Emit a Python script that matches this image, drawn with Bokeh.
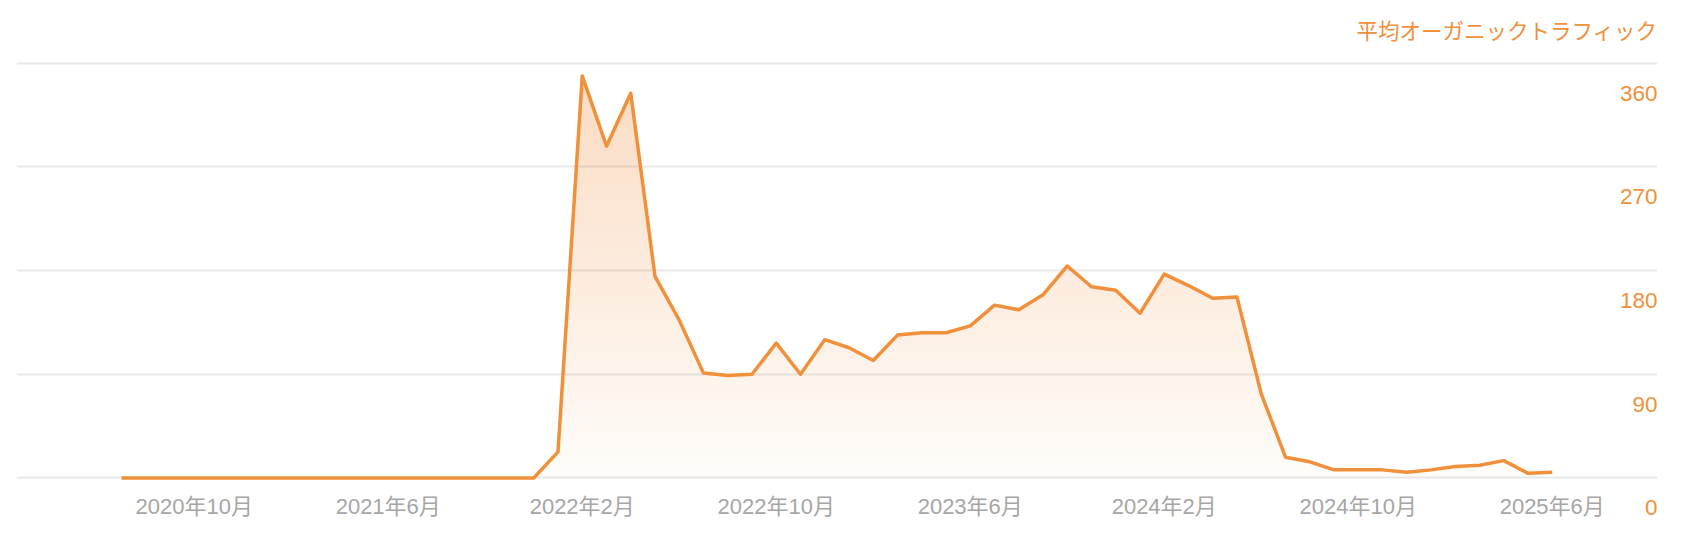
import numpy as np
import pandas as pd
from bokeh.plotting import figure
from bokeh.models import Range1d, ColumnDataSource, LabelSet
from bokeh.core.properties import value
from bokeh.embed import file_html
from bokeh.resources import INLINE

# ---- data ----
months = [f"{d.year}年{d.month}月" for d in pd.date_range("2020-07-01", periods=60, freq="MS")]
traffic = [0, 0, 0, 0, 0, 0, 0, 0, 0, 0, 0, 0, 0, 0, 0, 0, 0, 0,
           22.6, 349, 288, 334, 175, 137, 91, 89, 90, 117, 90, 120,
           113, 102, 124, 126, 126, 132, 150, 146, 159, 184, 166, 163,
           143, 177, 167, 156, 157, 73, 18, 14, 7, 7, 7, 5,
           7, 10, 11, 15, 4, 5]
tick_labels = ["2020年10月", "2021年6月", "2022年2月", "2022年10月",
               "2023年6月", "2024年2月", "2024年10月", "2025年6月"]
y_ticks = [0, 90, 180, 270, 360]
y_tick_labels = ["0", "90", "180", "270", "360"]
series_name = "平均オーガニックトラフィック"

LINE = "#F0903A"
FONT = "'Liberation Sans', 'Noto Sans CJK JP'"

idx = np.arange(len(months))
vals = np.array(traffic, dtype=float)

x_start, x_end = -4.33, 63.34
p = figure(width=1666, height=530, output_backend="svg", toolbar_location=None,
           x_range=Range1d(x_start, x_end), y_range=Range1d(-43.9, 365),
           min_border_left=16, min_border_right=9, min_border_top=57, min_border_bottom=2)
p.outline_line_color = None
p.background_fill_color = "white"
p.xgrid.visible = False
p.ygrid.visible = False
p.xaxis.visible = False
p.yaxis.visible = False

# gradient fill: vertical gradient image masked above the line
ymax = vals.max()
n = 256
t = np.linspace(0, 1, n)
top = np.array([251, 220, 196])
bot = np.array([255, 253, 250])
cols = (bot[None, :] * (1 - t[:, None]) + top[None, :] * t[:, None]).astype(np.uint32)
rgba = cols[:, 0] | (cols[:, 1] << 8) | (cols[:, 2] << 16) | (np.uint32(255) << 24)
img = np.repeat(rgba[:, None], 2, axis=1).astype(np.uint32)
p.image_rgba(image=[img], x=0.5, y=0, dw=float(idx[-1]) - 1.0, dh=float(ymax) - 2)
p.varea(x=idx, y1=vals, y2=np.full_like(vals, ymax + 20), fill_color="white")

# grid lines
p.hspan(y=y_ticks, line_color="black", line_alpha=0.09, line_width=2)

# line
p.line(idx, vals, line_color=LINE, line_width=3.5, line_join="round")

# x labels (below the zero line)
tick_idx = [months.index(l) for l in tick_labels]
xsrc = ColumnDataSource(dict(x=tick_idx, y=[0] * len(tick_idx), t=tick_labels))
p.add_layout(LabelSet(x="x", y="y", text="t", source=xsrc, text_align="center",
                      text_baseline="middle", y_offset=-29, text_color="#A6A6A6",
                      text_font=value(FONT), text_font_size=value("22px")))

# y labels below their grid lines, right aligned
ysrc = ColumnDataSource(dict(x=[x_end] * len(y_ticks), y=y_ticks, t=y_tick_labels))
p.add_layout(LabelSet(x="x", y="y", text="t", source=ysrc, text_align="right",
                      text_baseline="middle", y_offset=-30, text_color=LINE,
                      text_font=value(FONT), text_font_size=value("22.5px")))

# title
p.title.text = series_name
p.title.align = "right"
p.title.text_color = LINE
p.title.text_font = FONT
p.title.text_font_size = "21.5px"
p.title.text_font_style = "normal"
p.title.standoff = 28

open("out.html", "w").write(file_html(p, INLINE))
